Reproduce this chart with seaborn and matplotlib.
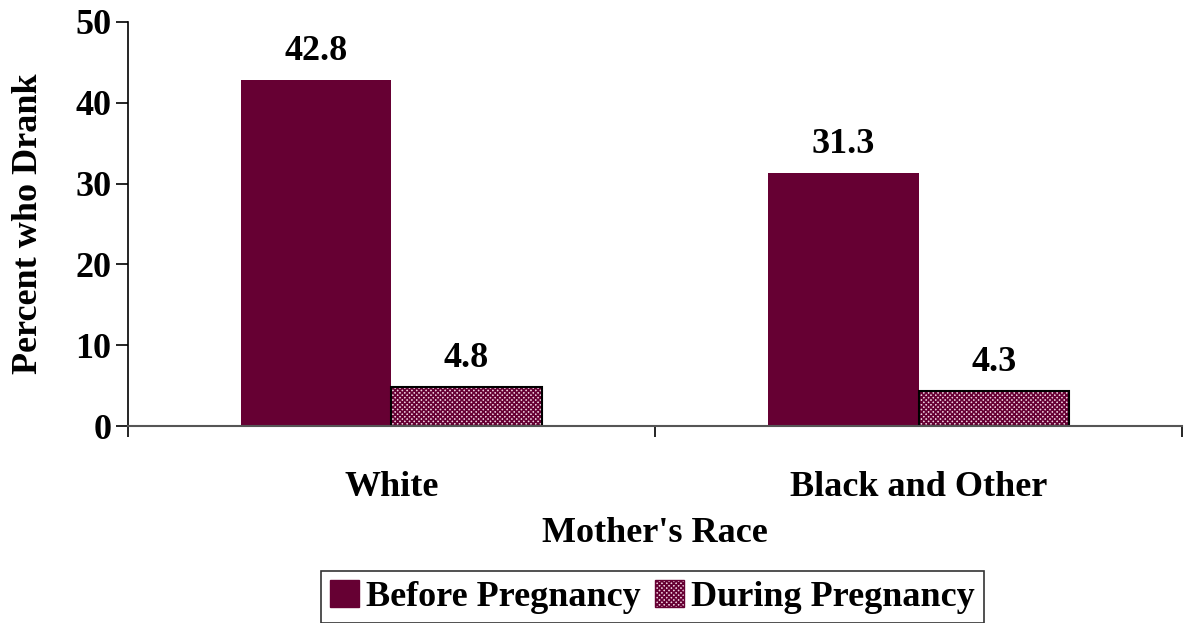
import matplotlib
matplotlib.use('Agg')
import matplotlib.pyplot as plt
import matplotlib.patches as mpatches
import seaborn as sns
import pandas as pd

# données
races = ['White', 'Black and Other']
before = [42.8, 31.3]
during = [4.8, 4.3]
periods = ['Before Pregnancy', 'During Pregnancy']

maroon = '#660033'

df = pd.DataFrame({
    'race': races * 2,
    'period': [periods[0]] * 2 + [periods[1]] * 2,
    'pct': before + during,
})

sns.set_style('white')
plt.rcParams['font.family'] = ['Liberation Serif', 'DejaVu Serif']
plt.rcParams['font.weight'] = 'bold'
plt.rcParams['text.color'] = 'black'
plt.rcParams['axes.labelcolor'] = 'black'
plt.rcParams['xtick.color'] = 'black'
plt.rcParams['ytick.color'] = 'black'
plt.rcParams['hatch.linewidth'] = 1.2

fig = plt.figure(figsize=(11.88, 6.23), dpi=100)
ax = fig.add_axes([0.1077, 0.316, 0.8873, 0.6487])

sns.barplot(data=df, x='race', y='pct', hue='period', order=races,
            hue_order=periods, palette=[maroon, 'white'], width=0.57,
            gap=0, saturation=1, linewidth=0, legend=False, ax=ax)

# barres "During" : motif damier + contour noir
n = len(races)
for p in ax.patches[n:2 * n]:
    p.set_facecolor('#f0d0e0')
    p.set_edgecolor(maroon)
    p.set_hatch('xxxxxxx')
    p.set_linewidth(0)
    b = p.get_bbox()
    ax.add_patch(mpatches.Rectangle((b.x0, b.y0), b.width, b.height,
                                    fill=False, edgecolor='black', lw=1.5))

for cont in ax.containers:
    ax.bar_label(cont, fmt='%.1f', padding=9, fontsize=26, fontweight='bold',
                 color='black')

ax.set_ylim(0, 50)
ax.set_xlim(-0.5, 1.5)
ax.set_yticks([0, 10, 20, 30, 40, 50])
ax.set_xticks([-0.5, 0.5, 1.5], minor=True)
ax.tick_params(axis='y', which='major', direction='out', length=9, width=1.2,
               left=True, labelsize=26, pad=3, colors='black')
ax.tick_params(axis='x', which='major', length=0, labelsize=26, pad=32,
               colors='black')
ax.tick_params(axis='x', which='minor', direction='out', length=8, width=1.2,
               bottom=True, colors='black')
for lab in ax.get_xticklabels() + ax.get_yticklabels():
    lab.set_fontweight('bold')

for s in ['top', 'right']:
    ax.spines[s].set_visible(False)
ax.spines['left'].set_color('black')
ax.spines['left'].set_linewidth(1.2)
ax.spines['bottom'].set_color('#555555')
ax.spines['bottom'].set_linewidth(1.5)

ax.set_xlabel("Mother's Race", fontsize=26, fontweight='bold', labelpad=10)
ax.set_ylabel('Percent who Drank', fontsize=26, fontweight='bold', labelpad=22)

handles = [mpatches.Patch(facecolor=maroon, edgecolor=maroon),
           mpatches.Patch(facecolor='#f0d0e0', edgecolor=maroon, hatch='xxxxxxx')]
leg = fig.legend(handles, periods, loc='center', bbox_to_anchor=(0.549, 0.042),
                 ncol=2, frameon=True, fancybox=False,
                 prop={'weight': 'bold', 'size': 26}, handlelength=0.8,
                 handleheight=0.8, handletextpad=0.2, columnspacing=0.4,
                 borderpad=0.25, borderaxespad=0)
leg.get_frame().set_edgecolor('black')
leg.get_frame().set_linewidth(1.2)

fig.savefig('out.png', dpi=100)
